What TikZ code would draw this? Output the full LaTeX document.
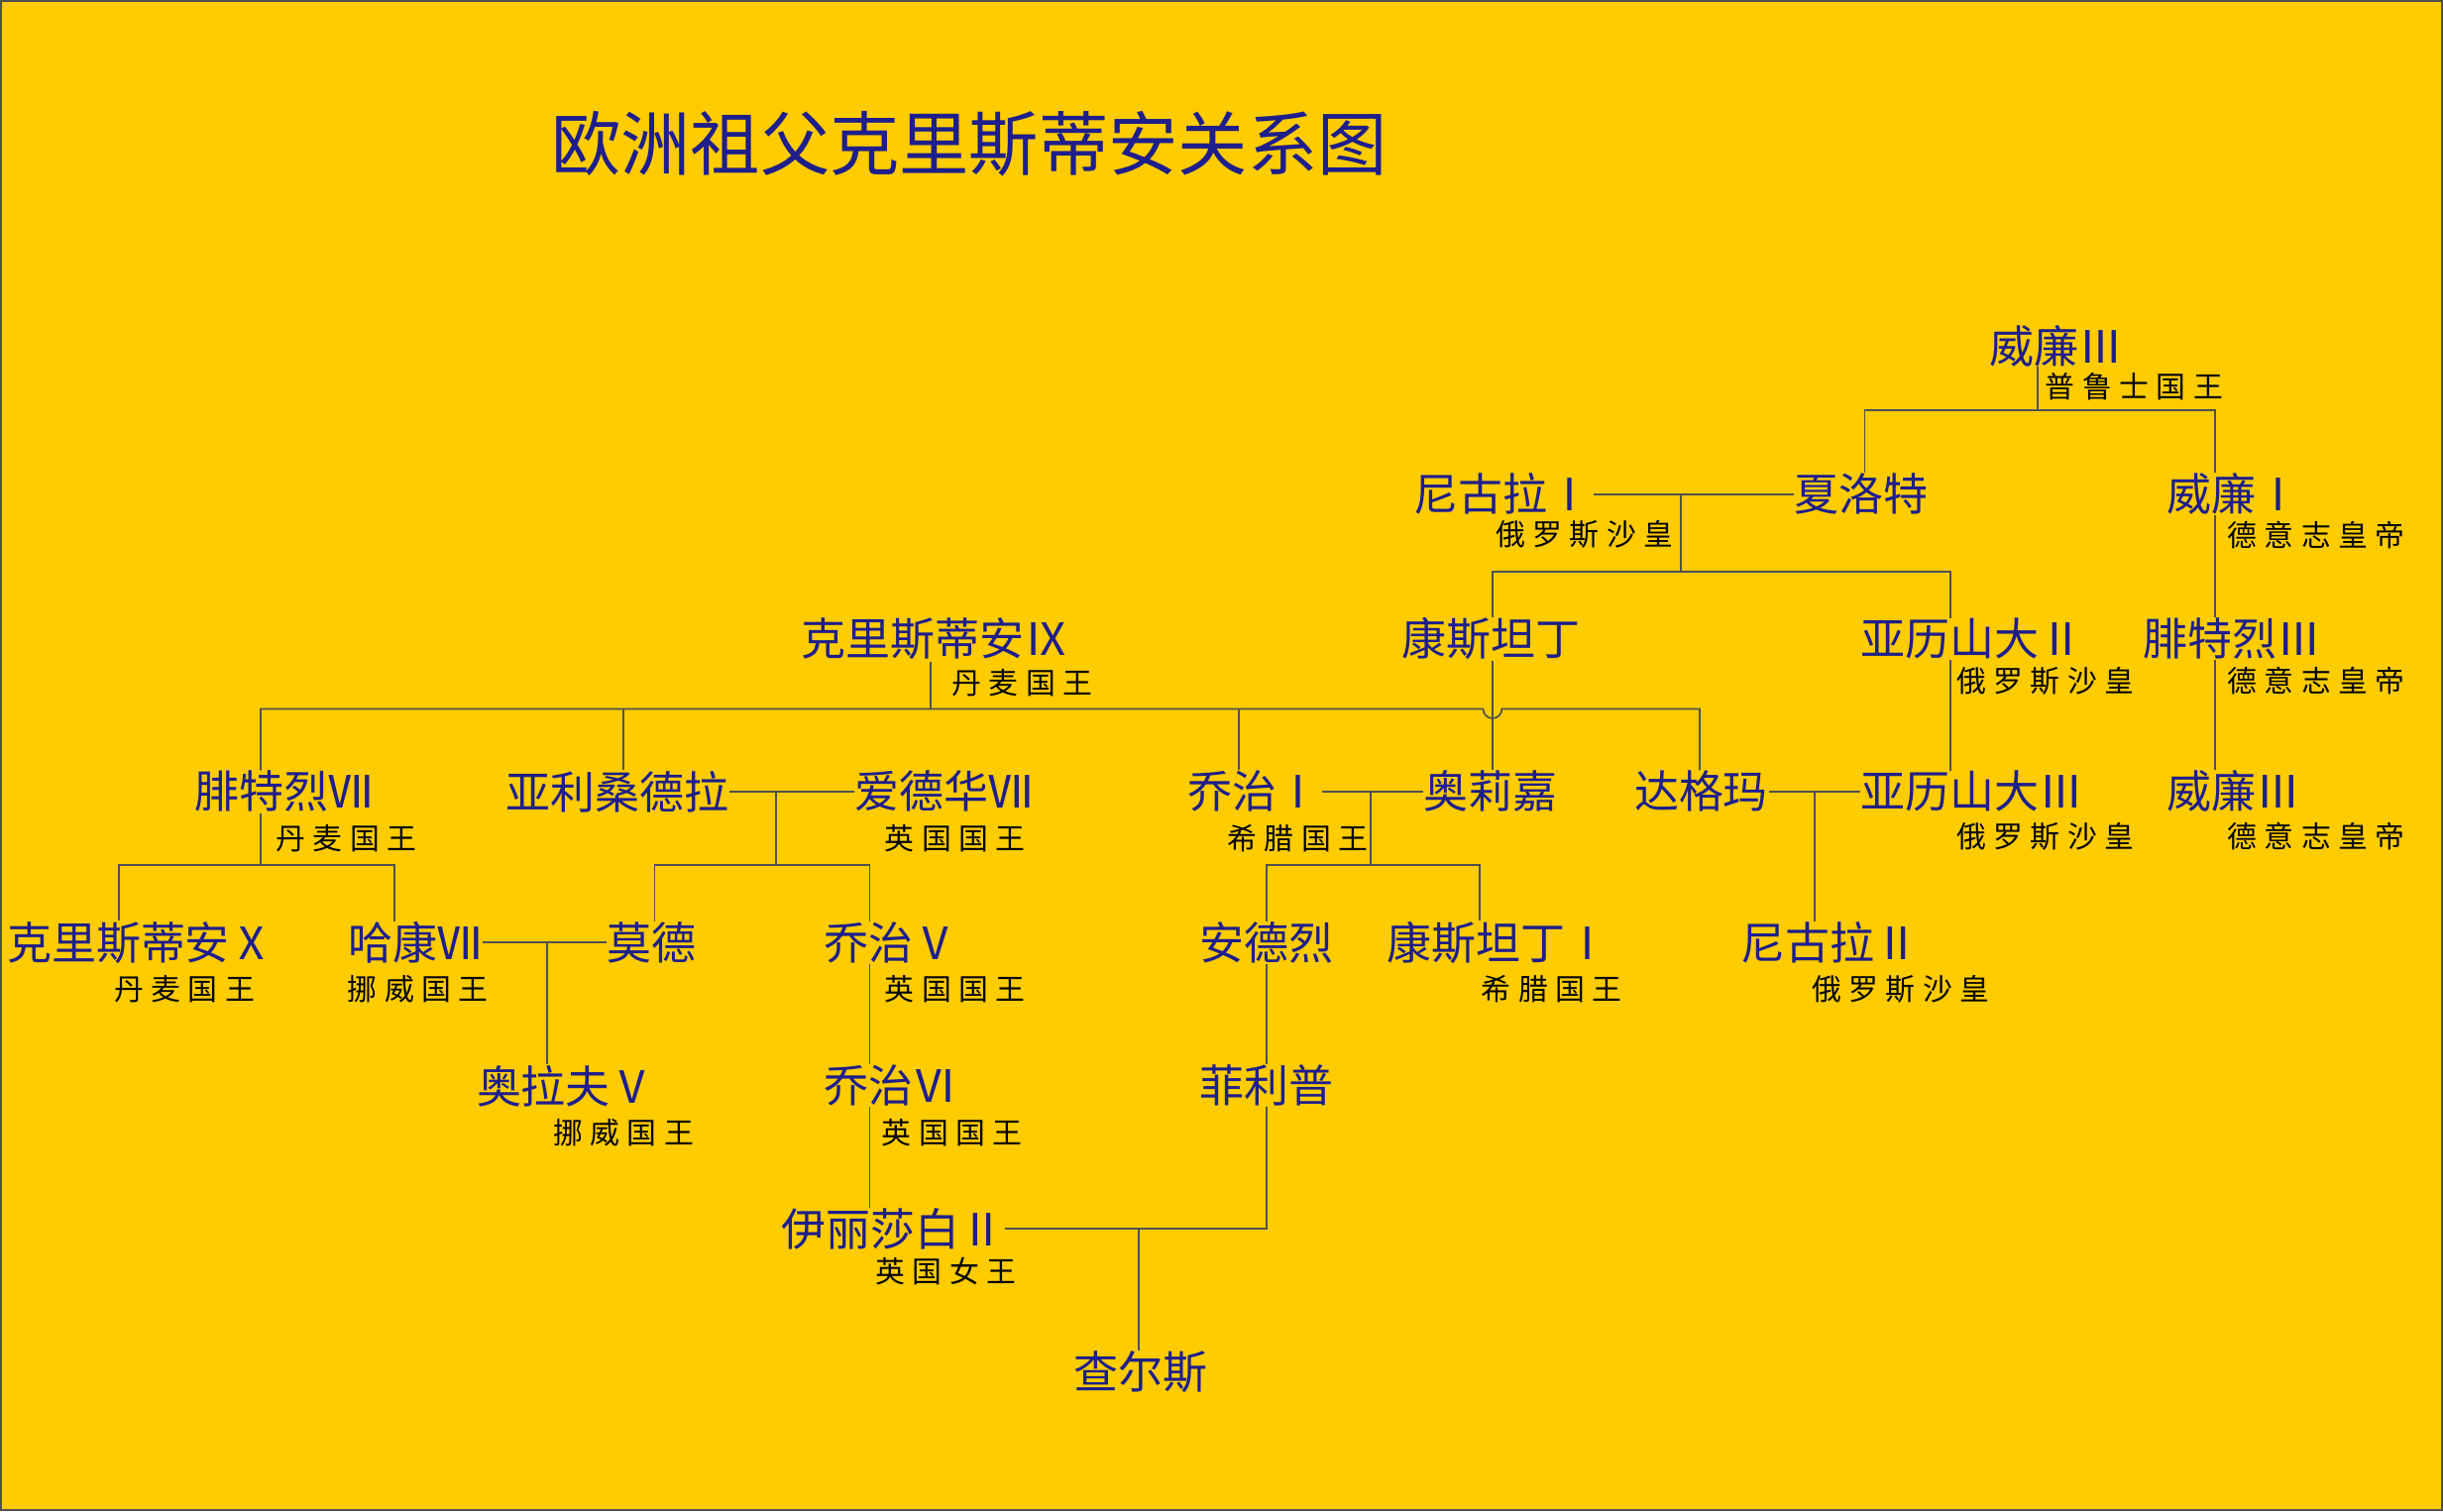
\documentclass[tikz,border=0pt]{standalone}
\usepackage{fontspec}
\newfontfamily\cjk{Noto Sans CJK SC}
\newfontfamily\cjksub{Noto Sans CJK SC}[LetterSpace=25]
\usepackage{tikz}
\definecolor{bg}{HTML}{FFCC00}
\definecolor{nm}{HTML}{1E1E8C}
\definecolor{ln}{HTML}{505050}
\tikzset{
  person/.style={inner sep=0pt, text=nm, font=\cjk\fontsize{12.8}{14}\selectfont},
  sub/.style={inner sep=0pt, text=black, font=\cjksub\fontsize{8.5}{9}\selectfont},
  link/.style={draw=ln, line width=0.5pt}
}
\begin{document}
\begin{tikzpicture}[x=0.01572cm, y=-0.01572cm]

% Hintergrund
\fill[bg] (0,0) rectangle (1568,970);
\draw[ln, line width=0.6pt] (0.3,0.3) rectangle (1567.7,969.7);
\useasboundingbox (0,0) rectangle (1568,970);

% Titel
\node[person, font=\cjk\fontsize{20}{22}\selectfont] (titel) at (622,92) {欧洲祖父克里斯蒂安关系图};

% Personen
\node[person] (wilh3) at (1320,222) {威廉Ⅲ};
\node[sub] at (1370,248) {普鲁士国王};
\node[person] (nik1) at (965,317) {尼古拉Ⅰ};
\node[sub] at (1017,343) {俄罗斯沙皇};
\node[person] (charl) at (1195,317) {夏洛特};
\node[person] (wilh1) at (1434,317) {威廉Ⅰ};
\node[sub] at (1487,343) {德意志皇帝};
\node[person] (chr9) at (600,410) {克里斯蒂安Ⅸ};
\node[sub] at (656,438) {丹麦国王};
\node[person] (konst) at (957,410) {康斯坦丁};
\node[person] (alex2) at (1266,410) {亚历山大Ⅱ};
\node[sub] at (1313,437) {俄罗斯沙皇};
\node[person] (fried3) at (1433,410) {腓特烈Ⅲ};
\node[sub] at (1487,437) {德意志皇帝};
\node[person] (fried7) at (182,508) {腓特烈Ⅶ};
\node[sub] at (222,538) {丹麦国王};
\node[person] (alexa) at (396,508) {亚利桑德拉};
\node[person] (edw7) at (606,508) {爱德华Ⅶ};
\node[sub] at (613,538) {英国国王};
\node[person] (geo1) at (805,508) {乔治Ⅰ};
\node[sub] at (833,538) {希腊国王};
\node[person] (olga) at (957,508) {奥莉嘉};
\node[person] (dagm) at (1092,508) {达格玛};
\node[person] (alex3) at (1266,508) {亚历山大Ⅲ};
\node[sub] at (1313,537) {俄罗斯沙皇};
\node[person] (wilh2) at (1434,508) {威廉Ⅲ};
\node[sub] at (1487,537) {德意志皇帝};
\node[person] (chr10) at (90,605) {克里斯蒂安Ⅹ};
\node[sub] at (118,635) {丹麦国王};
\node[person] (hak7) at (266,605) {哈康Ⅶ};
\node[sub] at (268,635) {挪威国王};
\node[person] (maud) at (418,605) {莫德};
\node[person] (geo5) at (572,605) {乔治Ⅴ};
\node[sub] at (613,635) {英国国王};
\node[person] (andr) at (813,605) {安德烈};
\node[person] (konst1) at (962,605) {康斯坦丁Ⅰ};
\node[sub] at (996,635) {希腊国王};
\node[person] (nik2) at (1175,605) {尼古拉Ⅱ};
\node[sub] at (1220,635) {俄罗斯沙皇};
\node[person] (olav5) at (363,697) {奥拉夫Ⅴ};
\node[sub] at (400,727) {挪威国王};
\node[person] (geo6) at (572,697) {乔治Ⅵ};
\node[sub] at (611,727) {英国国王};
\node[person] (phil) at (813,697) {菲利普};
\node[person] (eliz2) at (573,789) {伊丽莎白Ⅱ};
\node[sub] at (607,816) {英国女王};
\node[person] (charles) at (732,881) {查尔斯};

% Verbindungen
\draw[link] (1308,235) -- (1308,263);
\draw[link] (charl.north -| 1197,0) |- (1422,263) -- (wilh1.north -| 1422,0);
\draw[link] (nik1.east) -- (charl.west);
\draw[link] (1079,317) -- (1079,367);
\draw[link] (konst.north -| 958,0) |- (1252,367) -- (alex2.north -| 1252,0);
\draw[link] (wilh1.south -| 1422,0) -- (fried3.north -| 1422,0);
\draw[link] (fried3.south -| 1422,0) -- (wilh2.north -| 1422,0);
\draw[link] (alex2.south -| 1252,0) -- (alex3.north -| 1252,0);
\draw[link] (597,425) -- (597,455);
\draw[link] (fried7.north -| 167,0) |- (952,455) arc[start angle=180, end angle=0, radius=6] -- (1091,455) -- (dagm.north -| 1091,0);
\draw[link] (400,455) -- (alexa.north -| 400,0);
\draw[link] (795,455) -- (geo1.north -| 795,0);
\draw[link] (konst.south -| 958,0) -- (olga.north -| 958,0);
\draw[link] (alexa.east) -- (edw7.west);
\draw[link] (498,508) -- (498,555);
\draw[link] (maud.north -| 420,0) |- (558,555) -- (geo5.north -| 558,0);
\draw[link] (167,522) -- (167,555);
\draw[link] (chr10.north -| 76,0) |- (253,555) -- (hak7.north -| 253,0);
\draw[link] (hak7.east) -- (maud.west);
\draw[link] (351,605) -- (olav5.north -| 351,0);
\draw[link] (geo5.south -| 558,0) -- (geo6.north -| 558,0);
\draw[link] (geo6.south -| 558,0) -- (eliz2.north -| 558,0);
\draw[link] (geo1.east) -- (olga.west);
\draw[link] (880,508) -- (880,555);
\draw[link] (andr.north -| 813,0) |- (950,555) -- (konst1.north -| 950,0);
\draw[link] (dagm.east) -- (alex3.west);
\draw[link] (1165,508) -- (nik2.north -| 1165,0);
\draw[link] (andr.south) -- (phil.north);
\draw[link] (phil.south) |- (eliz2.east);
\draw[link] (731,789) -- (charles.north -| 731,0);
\end{tikzpicture}
\end{document}
